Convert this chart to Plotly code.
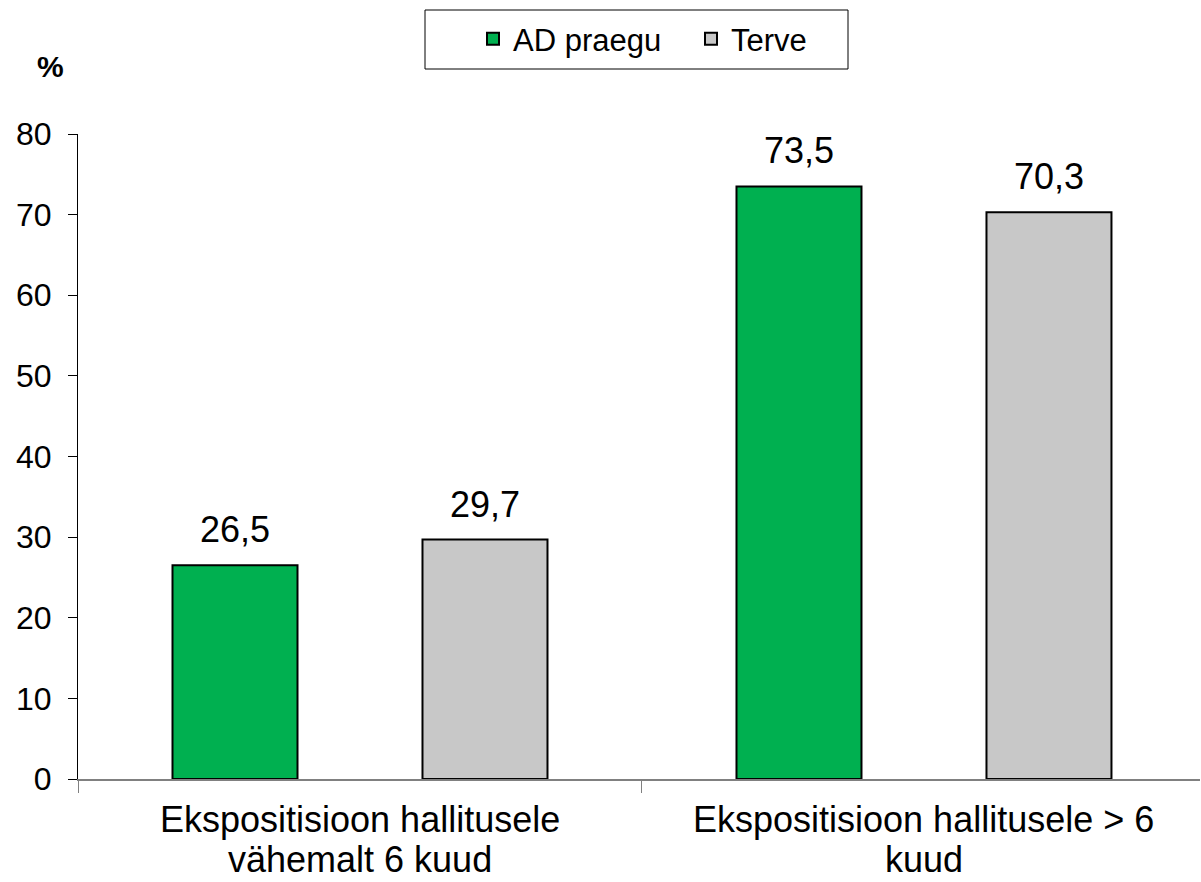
import plotly.graph_objects as go

# Share of children exposed to mould, by exposure duration
categories = [
    "Ekspositisioon hallitusele\nvähemalt 6 kuud",
    "Ekspositisioon hallitusele > 6\nkuud",
]
series_names = ["AD praegu", "Terve"]
ad_praegu = [26.5, 73.5]
terve = [29.7, 70.3]
y_ticks = [0, 10, 20, 30, 40, 50, 60, 70, 80]

FONT = "Liberation Sans, Arial, sans-serif"
colors = ["#00B050", "#C8C8C8"]

W, H = 1201, 882
M = dict(l=78, r=1, t=134, b=103)
plot_w = W - M["l"] - M["r"]
plot_h = H - M["t"] - M["b"]
BARGAP = 0.1135
BARGROUPGAP = 0.5
# the category band runs slightly past the right edge of the canvas
X_RANGE = [-0.5, 1.4894]

cat_ids = list(range(len(categories)))

fig = go.Figure()
for name, vals, col in zip(series_names, [ad_praegu, terve], colors):
    fig.add_trace(go.Bar(
        x=cat_ids,
        y=vals,
        name=name,
        marker=dict(color=col, line=dict(color="#000000", width=2)),
        cliponaxis=False,
    ))


def px_x(p):
    return (p - M["l"]) / plot_w


def px_y(p):
    return (H - M["b"] - p) / plot_h


annotations = []

# value labels above each bar, centred on the bar's slot in its group
cat_px = plot_w / (X_RANGE[1] - X_RANGE[0])
slot_px = (1 - BARGAP) * cat_px / len(series_names)
for s, vals in enumerate([ad_praegu, terve]):
    shift = (s - (len(series_names) - 1) / 2) * slot_px
    for c, v in zip(cat_ids, vals):
        annotations.append(dict(
            x=c, y=v, xref="x", yref="y",
            text=f"{v:.1f}".replace(".", ","),
            xshift=shift, yshift=13,
            xanchor="center", yanchor="bottom",
            showarrow=False,
            font=dict(size=36, family=FONT, color="#000000"),
        ))

# category labels below the axis, one annotation per line
for c, label in zip(cat_ids, categories):
    for i, line in enumerate(label.split("\n")):
        annotations.append(dict(
            x=c, y=0, xref="x", yref="paper",
            text=line,
            yshift=-40 - 40 * i,
            xanchor="center", yanchor="middle",
            showarrow=False,
            font=dict(size=36, family=FONT, color="#000000"),
        ))

# y-axis unit
annotations.append(dict(
    text="<b>%</b>",
    xref="paper", yref="paper",
    x=px_x(50), y=px_y(67),
    xanchor="center", yanchor="middle",
    showarrow=False,
    font=dict(size=30, family=FONT, color="#000000"),
))

fig.update_layout(
    width=W,
    height=H,
    barmode="group",
    bargap=BARGAP,
    bargroupgap=BARGROUPGAP,
    paper_bgcolor="#FFFFFF",
    plot_bgcolor="#FFFFFF",
    font=dict(family=FONT, color="#000000"),
    margin=M,
    showlegend=True,
    legend=dict(
        orientation="h",
        x=px_x(473),
        xanchor="left",
        y=px_y(39),
        yanchor="middle",
        bgcolor="rgba(0,0,0,0)",
        borderwidth=0,
        font=dict(size=31, family=FONT),
        entrywidth=173,
        itemclick=False,
        traceorder="normal",
    ),
    shapes=[
        dict(
            type="rect", xref="paper", yref="paper",
            x0=px_x(425), x1=px_x(848), y0=px_y(69), y1=px_y(10),
            line=dict(color="#000000", width=1),
            fillcolor="rgba(0,0,0,0)",
        )
    ],
    annotations=annotations,
)

fig.update_yaxes(
    range=[0, 80],
    tickvals=y_ticks,
    showgrid=False,
    zeroline=False,
    showline=True,
    linecolor="#000000",
    linewidth=1,
    ticks="outside",
    ticklen=9,
    tickcolor="#000000",
    ticklabelstandoff=10,
    tickfont=dict(size=32, family=FONT),
)

fig.update_xaxes(
    type="linear",
    range=X_RANGE,
    tickvals=[c - 0.5 for c in cat_ids],
    showticklabels=False,
    showgrid=False,
    zeroline=False,
    showline=True,
    linecolor="#808080",
    linewidth=2,
    ticks="outside",
    ticklen=12,
    tickcolor="#808080",
)

fig.write_html("out.html")
